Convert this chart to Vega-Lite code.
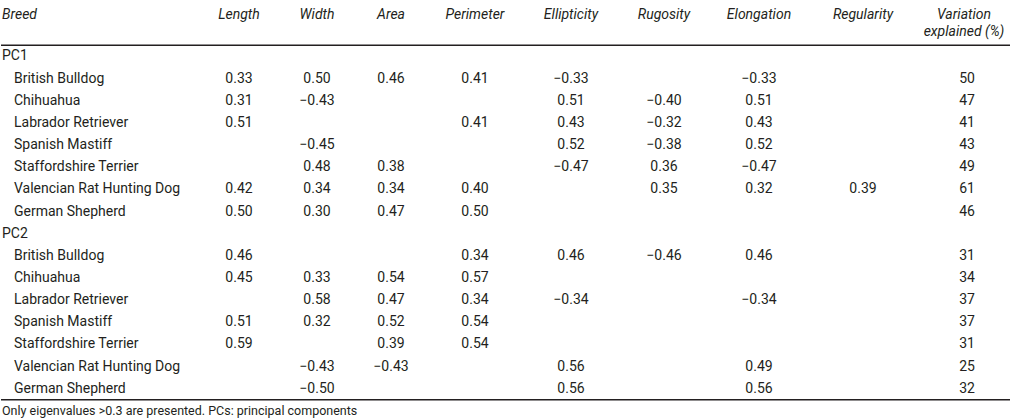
{
  "$schema": "https://vega.github.io/schema/vega-lite/v6.json",
  "padding": {"top": 1, "left": 0, "right": 0, "bottom": 0},
  "bounds": "flush",
  "spacing": 0,
  "config": {"view": {"stroke": null}, "text": {"font": "Roboto", "fontSize": 14, "color": "#231f20"}},
  "datasets": {
    "rules": [{"row": "PC1"}, {"row": "Note"}],
    "rows": [
      {"row": "H1", "label": "Breed", "level": "group", "kind": "header"},
      {"row": "PC1", "label": "PC1", "level": "group", "kind": "body"},
      {"row": "PC1|British Bulldog", "label": "British Bulldog", "level": "breed", "kind": "body"},
      {"row": "PC1|Chihuahua", "label": "Chihuahua", "level": "breed", "kind": "body"},
      {"row": "PC1|Labrador Retriever", "label": "Labrador Retriever", "level": "breed", "kind": "body"},
      {"row": "PC1|Spanish Mastiff", "label": "Spanish Mastiff", "level": "breed", "kind": "body"},
      {"row": "PC1|Staffordshire Terrier", "label": "Staffordshire Terrier", "level": "breed", "kind": "body"},
      {"row": "PC1|Valencian Rat Hunting Dog", "label": "Valencian Rat Hunting Dog", "level": "breed", "kind": "body"},
      {"row": "PC1|German Shepherd", "label": "German Shepherd", "level": "breed", "kind": "body"},
      {"row": "PC2", "label": "PC2", "level": "group", "kind": "body"},
      {"row": "PC2|British Bulldog", "label": "British Bulldog", "level": "breed", "kind": "body"},
      {"row": "PC2|Chihuahua", "label": "Chihuahua", "level": "breed", "kind": "body"},
      {"row": "PC2|Labrador Retriever", "label": "Labrador Retriever", "level": "breed", "kind": "body"},
      {"row": "PC2|Spanish Mastiff", "label": "Spanish Mastiff", "level": "breed", "kind": "body"},
      {"row": "PC2|Staffordshire Terrier", "label": "Staffordshire Terrier", "level": "breed", "kind": "body"},
      {"row": "PC2|Valencian Rat Hunting Dog", "label": "Valencian Rat Hunting Dog", "level": "breed", "kind": "body"},
      {"row": "PC2|German Shepherd", "label": "German Shepherd", "level": "breed", "kind": "body"},
      {"row": "Note", "label": "Only eigenvalues >0.3 are presented. PCs: principal components", "level": "group", "kind": "note"}
    ],
    "headers": [
      {"row": "H1", "measure": "Length", "label": "Length"},
      {"row": "H1", "measure": "Width", "label": "Width"},
      {"row": "H1", "measure": "Area", "label": "Area"},
      {"row": "H1", "measure": "Perimeter", "label": "Perimeter"},
      {"row": "H1", "measure": "Ellipticity", "label": "Ellipticity"},
      {"row": "H1", "measure": "Rugosity", "label": "Rugosity"},
      {"row": "H1", "measure": "Elongation", "label": "Elongation"},
      {"row": "H1", "measure": "Regularity", "label": "Regularity"},
      {"row": "H1", "measure": "Variation", "label": "Variation"},
      {"row": "H2", "measure": "Variation", "label": "explained (%)"}
    ],
    "cells": [
      {"row": "PC1|British Bulldog", "measure": "Length", "value": 0.33},
      {"row": "PC1|British Bulldog", "measure": "Width", "value": 0.50},
      {"row": "PC1|British Bulldog", "measure": "Area", "value": 0.46},
      {"row": "PC1|British Bulldog", "measure": "Perimeter", "value": 0.41},
      {"row": "PC1|British Bulldog", "measure": "Ellipticity", "value": -0.33},
      {"row": "PC1|British Bulldog", "measure": "Elongation", "value": -0.33},
      {"row": "PC1|British Bulldog", "measure": "Variation", "value": 50},
      {"row": "PC1|Chihuahua", "measure": "Length", "value": 0.31},
      {"row": "PC1|Chihuahua", "measure": "Width", "value": -0.43},
      {"row": "PC1|Chihuahua", "measure": "Ellipticity", "value": 0.51},
      {"row": "PC1|Chihuahua", "measure": "Rugosity", "value": -0.40},
      {"row": "PC1|Chihuahua", "measure": "Elongation", "value": 0.51},
      {"row": "PC1|Chihuahua", "measure": "Variation", "value": 47},
      {"row": "PC1|Labrador Retriever", "measure": "Length", "value": 0.51},
      {"row": "PC1|Labrador Retriever", "measure": "Perimeter", "value": 0.41},
      {"row": "PC1|Labrador Retriever", "measure": "Ellipticity", "value": 0.43},
      {"row": "PC1|Labrador Retriever", "measure": "Rugosity", "value": -0.32},
      {"row": "PC1|Labrador Retriever", "measure": "Elongation", "value": 0.43},
      {"row": "PC1|Labrador Retriever", "measure": "Variation", "value": 41},
      {"row": "PC1|Spanish Mastiff", "measure": "Width", "value": -0.45},
      {"row": "PC1|Spanish Mastiff", "measure": "Ellipticity", "value": 0.52},
      {"row": "PC1|Spanish Mastiff", "measure": "Rugosity", "value": -0.38},
      {"row": "PC1|Spanish Mastiff", "measure": "Elongation", "value": 0.52},
      {"row": "PC1|Spanish Mastiff", "measure": "Variation", "value": 43},
      {"row": "PC1|Staffordshire Terrier", "measure": "Width", "value": 0.48},
      {"row": "PC1|Staffordshire Terrier", "measure": "Area", "value": 0.38},
      {"row": "PC1|Staffordshire Terrier", "measure": "Ellipticity", "value": -0.47},
      {"row": "PC1|Staffordshire Terrier", "measure": "Rugosity", "value": 0.36},
      {"row": "PC1|Staffordshire Terrier", "measure": "Elongation", "value": -0.47},
      {"row": "PC1|Staffordshire Terrier", "measure": "Variation", "value": 49},
      {"row": "PC1|Valencian Rat Hunting Dog", "measure": "Length", "value": 0.42},
      {"row": "PC1|Valencian Rat Hunting Dog", "measure": "Width", "value": 0.34},
      {"row": "PC1|Valencian Rat Hunting Dog", "measure": "Area", "value": 0.34},
      {"row": "PC1|Valencian Rat Hunting Dog", "measure": "Perimeter", "value": 0.40},
      {"row": "PC1|Valencian Rat Hunting Dog", "measure": "Rugosity", "value": 0.35},
      {"row": "PC1|Valencian Rat Hunting Dog", "measure": "Elongation", "value": 0.32},
      {"row": "PC1|Valencian Rat Hunting Dog", "measure": "Regularity", "value": 0.39},
      {"row": "PC1|Valencian Rat Hunting Dog", "measure": "Variation", "value": 61},
      {"row": "PC1|German Shepherd", "measure": "Length", "value": 0.50},
      {"row": "PC1|German Shepherd", "measure": "Width", "value": 0.30},
      {"row": "PC1|German Shepherd", "measure": "Area", "value": 0.47},
      {"row": "PC1|German Shepherd", "measure": "Perimeter", "value": 0.50},
      {"row": "PC1|German Shepherd", "measure": "Variation", "value": 46},
      {"row": "PC2|British Bulldog", "measure": "Length", "value": 0.46},
      {"row": "PC2|British Bulldog", "measure": "Perimeter", "value": 0.34},
      {"row": "PC2|British Bulldog", "measure": "Ellipticity", "value": 0.46},
      {"row": "PC2|British Bulldog", "measure": "Rugosity", "value": -0.46},
      {"row": "PC2|British Bulldog", "measure": "Elongation", "value": 0.46},
      {"row": "PC2|British Bulldog", "measure": "Variation", "value": 31},
      {"row": "PC2|Chihuahua", "measure": "Length", "value": 0.45},
      {"row": "PC2|Chihuahua", "measure": "Width", "value": 0.33},
      {"row": "PC2|Chihuahua", "measure": "Area", "value": 0.54},
      {"row": "PC2|Chihuahua", "measure": "Perimeter", "value": 0.57},
      {"row": "PC2|Chihuahua", "measure": "Variation", "value": 34},
      {"row": "PC2|Labrador Retriever", "measure": "Width", "value": 0.58},
      {"row": "PC2|Labrador Retriever", "measure": "Area", "value": 0.47},
      {"row": "PC2|Labrador Retriever", "measure": "Perimeter", "value": 0.34},
      {"row": "PC2|Labrador Retriever", "measure": "Ellipticity", "value": -0.34},
      {"row": "PC2|Labrador Retriever", "measure": "Elongation", "value": -0.34},
      {"row": "PC2|Labrador Retriever", "measure": "Variation", "value": 37},
      {"row": "PC2|Spanish Mastiff", "measure": "Length", "value": 0.51},
      {"row": "PC2|Spanish Mastiff", "measure": "Width", "value": 0.32},
      {"row": "PC2|Spanish Mastiff", "measure": "Area", "value": 0.52},
      {"row": "PC2|Spanish Mastiff", "measure": "Perimeter", "value": 0.54},
      {"row": "PC2|Spanish Mastiff", "measure": "Variation", "value": 37},
      {"row": "PC2|Staffordshire Terrier", "measure": "Length", "value": 0.59},
      {"row": "PC2|Staffordshire Terrier", "measure": "Area", "value": 0.39},
      {"row": "PC2|Staffordshire Terrier", "measure": "Perimeter", "value": 0.54},
      {"row": "PC2|Staffordshire Terrier", "measure": "Variation", "value": 31},
      {"row": "PC2|Valencian Rat Hunting Dog", "measure": "Width", "value": -0.43},
      {"row": "PC2|Valencian Rat Hunting Dog", "measure": "Area", "value": -0.43},
      {"row": "PC2|Valencian Rat Hunting Dog", "measure": "Ellipticity", "value": 0.56},
      {"row": "PC2|Valencian Rat Hunting Dog", "measure": "Elongation", "value": 0.49},
      {"row": "PC2|Valencian Rat Hunting Dog", "measure": "Variation", "value": 25},
      {"row": "PC2|German Shepherd", "measure": "Width", "value": -0.50},
      {"row": "PC2|German Shepherd", "measure": "Ellipticity", "value": 0.56},
      {"row": "PC2|German Shepherd", "measure": "Elongation", "value": 0.56},
      {"row": "PC2|German Shepherd", "measure": "Variation", "value": 32}
    ]
  },
  "hconcat": [
    {
      "width": 198, "height": 421,
      "encoding": {
        "y": {"field": "row", "type": "nominal", "axis": null, "scale": {"domain": ["H1","H2","PC1","PC1|British Bulldog","PC1|Chihuahua","PC1|Labrador Retriever","PC1|Spanish Mastiff","PC1|Staffordshire Terrier","PC1|Valencian Rat Hunting Dog","PC1|German Shepherd","PC2","PC2|British Bulldog","PC2|Chihuahua","PC2|Labrador Retriever","PC2|Spanish Mastiff","PC2|Staffordshire Terrier","PC2|Valencian Rat Hunting Dog","PC2|German Shepherd","Note"], "paddingInner": 0, "paddingOuter": 0}},
        "x": {"field": "level", "type": "nominal", "axis": null, "scale": {"type": "point", "domain": ["group", "breed"], "range": [1, 13], "padding": 0}}
      },
      "layer": [
        {"data": {"name": "rules"}, "mark": {"type": "rule", "color": "#231f20", "strokeWidth": 1.5},
         "encoding": {"x": null, "y": {"field": "row", "type": "nominal", "bandPosition": 0, "axis": null, "scale": {"domain": ["H1","H2","PC1","PC1|British Bulldog","PC1|Chihuahua","PC1|Labrador Retriever","PC1|Spanish Mastiff","PC1|Staffordshire Terrier","PC1|Valencian Rat Hunting Dog","PC1|German Shepherd","PC2","PC2|British Bulldog","PC2|Chihuahua","PC2|Labrador Retriever","PC2|Spanish Mastiff","PC2|Staffordshire Terrier","PC2|Valencian Rat Hunting Dog","PC2|German Shepherd","Note"], "paddingInner": 0, "paddingOuter": 0}}}},
        {"data": {"name": "rows"}, "transform": [{"filter": {"field": "kind", "equal": "header"}}],
         "mark": {"type": "text", "align": "left", "fontStyle": "italic", "fontSize": 14, "dy": 2.5},
         "encoding": {"text": {"field": "label"}}},
        {"data": {"name": "rows"}, "transform": [{"filter": {"field": "kind", "equal": "body"}}],
         "mark": {"type": "text", "align": "left"},
         "encoding": {"text": {"field": "label"}}},
        {"data": {"name": "rows"}, "transform": [{"filter": {"field": "kind", "equal": "note"}}],
         "mark": {"type": "text", "align": "left", "fontSize": 12.5},
         "encoding": {"text": {"field": "label"}}}
      ]
    },
    {
      "width": 80, "height": 421,
      "encoding": {"y": {"field": "row", "type": "nominal", "axis": null, "scale": {"domain": ["H1","H2","PC1","PC1|British Bulldog","PC1|Chihuahua","PC1|Labrador Retriever","PC1|Spanish Mastiff","PC1|Staffordshire Terrier","PC1|Valencian Rat Hunting Dog","PC1|German Shepherd","PC2","PC2|British Bulldog","PC2|Chihuahua","PC2|Labrador Retriever","PC2|Spanish Mastiff","PC2|Staffordshire Terrier","PC2|Valencian Rat Hunting Dog","PC2|German Shepherd","Note"], "paddingInner": 0, "paddingOuter": 0}}},
      "layer": [
        {"data": {"name": "rules"}, "mark": {"type": "rule", "color": "#231f20", "strokeWidth": 1.5},
         "encoding": {"y": {"field": "row", "type": "nominal", "bandPosition": 0, "axis": null}}},
        {"data": {"name": "headers"}, "transform": [{"filter": {"field": "measure", "equal": "Length"}}],
         "mark": {"type": "text", "fontStyle": "italic", "fontSize": 14, "dy": 2.5},
         "encoding": {"text": {"field": "label"}}},
        {"data": {"name": "cells"}, "transform": [{"filter": {"field": "measure", "equal": "Length"}}],
         "mark": {"type": "text"},
         "encoding": {"text": {"field": "value", "type": "quantitative", "format": ".2f"}}}
      ]
    },
    {
      "width": 76, "height": 421,
      "encoding": {"y": {"field": "row", "type": "nominal", "axis": null, "scale": {"domain": ["H1","H2","PC1","PC1|British Bulldog","PC1|Chihuahua","PC1|Labrador Retriever","PC1|Spanish Mastiff","PC1|Staffordshire Terrier","PC1|Valencian Rat Hunting Dog","PC1|German Shepherd","PC2","PC2|British Bulldog","PC2|Chihuahua","PC2|Labrador Retriever","PC2|Spanish Mastiff","PC2|Staffordshire Terrier","PC2|Valencian Rat Hunting Dog","PC2|German Shepherd","Note"], "paddingInner": 0, "paddingOuter": 0}}},
      "layer": [
        {"data": {"name": "rules"}, "mark": {"type": "rule", "color": "#231f20", "strokeWidth": 1.5},
         "encoding": {"y": {"field": "row", "type": "nominal", "bandPosition": 0, "axis": null}}},
        {"data": {"name": "headers"}, "transform": [{"filter": {"field": "measure", "equal": "Width"}}],
         "mark": {"type": "text", "fontStyle": "italic", "fontSize": 14, "dy": 2.5},
         "encoding": {"text": {"field": "label"}}},
        {"data": {"name": "cells"}, "transform": [{"filter": {"field": "measure", "equal": "Width"}}],
         "mark": {"type": "text"},
         "encoding": {"text": {"field": "value", "type": "quantitative", "format": ".2f"}}}
      ]
    },
    {
      "width": 72, "height": 421,
      "encoding": {"y": {"field": "row", "type": "nominal", "axis": null, "scale": {"domain": ["H1","H2","PC1","PC1|British Bulldog","PC1|Chihuahua","PC1|Labrador Retriever","PC1|Spanish Mastiff","PC1|Staffordshire Terrier","PC1|Valencian Rat Hunting Dog","PC1|German Shepherd","PC2","PC2|British Bulldog","PC2|Chihuahua","PC2|Labrador Retriever","PC2|Spanish Mastiff","PC2|Staffordshire Terrier","PC2|Valencian Rat Hunting Dog","PC2|German Shepherd","Note"], "paddingInner": 0, "paddingOuter": 0}}},
      "layer": [
        {"data": {"name": "rules"}, "mark": {"type": "rule", "color": "#231f20", "strokeWidth": 1.5},
         "encoding": {"y": {"field": "row", "type": "nominal", "bandPosition": 0, "axis": null}}},
        {"data": {"name": "headers"}, "transform": [{"filter": {"field": "measure", "equal": "Area"}}],
         "mark": {"type": "text", "fontStyle": "italic", "fontSize": 14, "dy": 2.5},
         "encoding": {"text": {"field": "label"}}},
        {"data": {"name": "cells"}, "transform": [{"filter": {"field": "measure", "equal": "Area"}}],
         "mark": {"type": "text"},
         "encoding": {"text": {"field": "value", "type": "quantitative", "format": ".2f"}}}
      ]
    },
    {
      "width": 96, "height": 421,
      "encoding": {"y": {"field": "row", "type": "nominal", "axis": null, "scale": {"domain": ["H1","H2","PC1","PC1|British Bulldog","PC1|Chihuahua","PC1|Labrador Retriever","PC1|Spanish Mastiff","PC1|Staffordshire Terrier","PC1|Valencian Rat Hunting Dog","PC1|German Shepherd","PC2","PC2|British Bulldog","PC2|Chihuahua","PC2|Labrador Retriever","PC2|Spanish Mastiff","PC2|Staffordshire Terrier","PC2|Valencian Rat Hunting Dog","PC2|German Shepherd","Note"], "paddingInner": 0, "paddingOuter": 0}}},
      "layer": [
        {"data": {"name": "rules"}, "mark": {"type": "rule", "color": "#231f20", "strokeWidth": 1.5},
         "encoding": {"y": {"field": "row", "type": "nominal", "bandPosition": 0, "axis": null}}},
        {"data": {"name": "headers"}, "transform": [{"filter": {"field": "measure", "equal": "Perimeter"}}],
         "mark": {"type": "text", "fontStyle": "italic", "fontSize": 14, "dy": 2.5},
         "encoding": {"text": {"field": "label"}}},
        {"data": {"name": "cells"}, "transform": [{"filter": {"field": "measure", "equal": "Perimeter"}}],
         "mark": {"type": "text"},
         "encoding": {"text": {"field": "value", "type": "quantitative", "format": ".2f"}}}
      ]
    },
    {
      "width": 96, "height": 421,
      "encoding": {"y": {"field": "row", "type": "nominal", "axis": null, "scale": {"domain": ["H1","H2","PC1","PC1|British Bulldog","PC1|Chihuahua","PC1|Labrador Retriever","PC1|Spanish Mastiff","PC1|Staffordshire Terrier","PC1|Valencian Rat Hunting Dog","PC1|German Shepherd","PC2","PC2|British Bulldog","PC2|Chihuahua","PC2|Labrador Retriever","PC2|Spanish Mastiff","PC2|Staffordshire Terrier","PC2|Valencian Rat Hunting Dog","PC2|German Shepherd","Note"], "paddingInner": 0, "paddingOuter": 0}}},
      "layer": [
        {"data": {"name": "rules"}, "mark": {"type": "rule", "color": "#231f20", "strokeWidth": 1.5},
         "encoding": {"y": {"field": "row", "type": "nominal", "bandPosition": 0, "axis": null}}},
        {"data": {"name": "headers"}, "transform": [{"filter": {"field": "measure", "equal": "Ellipticity"}}],
         "mark": {"type": "text", "fontStyle": "italic", "fontSize": 14, "dy": 2.5},
         "encoding": {"text": {"field": "label"}}},
        {"data": {"name": "cells"}, "transform": [{"filter": {"field": "measure", "equal": "Ellipticity"}}],
         "mark": {"type": "text"},
         "encoding": {"text": {"field": "value", "type": "quantitative", "format": ".2f"}}}
      ]
    },
    {
      "width": 90, "height": 421,
      "encoding": {"y": {"field": "row", "type": "nominal", "axis": null, "scale": {"domain": ["H1","H2","PC1","PC1|British Bulldog","PC1|Chihuahua","PC1|Labrador Retriever","PC1|Spanish Mastiff","PC1|Staffordshire Terrier","PC1|Valencian Rat Hunting Dog","PC1|German Shepherd","PC2","PC2|British Bulldog","PC2|Chihuahua","PC2|Labrador Retriever","PC2|Spanish Mastiff","PC2|Staffordshire Terrier","PC2|Valencian Rat Hunting Dog","PC2|German Shepherd","Note"], "paddingInner": 0, "paddingOuter": 0}}},
      "layer": [
        {"data": {"name": "rules"}, "mark": {"type": "rule", "color": "#231f20", "strokeWidth": 1.5},
         "encoding": {"y": {"field": "row", "type": "nominal", "bandPosition": 0, "axis": null}}},
        {"data": {"name": "headers"}, "transform": [{"filter": {"field": "measure", "equal": "Rugosity"}}],
         "mark": {"type": "text", "fontStyle": "italic", "fontSize": 14, "dy": 2.5},
         "encoding": {"text": {"field": "label"}}},
        {"data": {"name": "cells"}, "transform": [{"filter": {"field": "measure", "equal": "Rugosity"}}],
         "mark": {"type": "text"},
         "encoding": {"text": {"field": "value", "type": "quantitative", "format": ".2f"}}}
      ]
    },
    {
      "width": 100, "height": 421,
      "encoding": {"y": {"field": "row", "type": "nominal", "axis": null, "scale": {"domain": ["H1","H2","PC1","PC1|British Bulldog","PC1|Chihuahua","PC1|Labrador Retriever","PC1|Spanish Mastiff","PC1|Staffordshire Terrier","PC1|Valencian Rat Hunting Dog","PC1|German Shepherd","PC2","PC2|British Bulldog","PC2|Chihuahua","PC2|Labrador Retriever","PC2|Spanish Mastiff","PC2|Staffordshire Terrier","PC2|Valencian Rat Hunting Dog","PC2|German Shepherd","Note"], "paddingInner": 0, "paddingOuter": 0}}},
      "layer": [
        {"data": {"name": "rules"}, "mark": {"type": "rule", "color": "#231f20", "strokeWidth": 1.5},
         "encoding": {"y": {"field": "row", "type": "nominal", "bandPosition": 0, "axis": null}}},
        {"data": {"name": "headers"}, "transform": [{"filter": {"field": "measure", "equal": "Elongation"}}],
         "mark": {"type": "text", "fontStyle": "italic", "fontSize": 14, "dy": 2.5},
         "encoding": {"text": {"field": "label"}}},
        {"data": {"name": "cells"}, "transform": [{"filter": {"field": "measure", "equal": "Elongation"}}],
         "mark": {"type": "text"},
         "encoding": {"text": {"field": "value", "type": "quantitative", "format": ".2f"}}}
      ]
    },
    {
      "width": 108, "height": 421,
      "encoding": {"y": {"field": "row", "type": "nominal", "axis": null, "scale": {"domain": ["H1","H2","PC1","PC1|British Bulldog","PC1|Chihuahua","PC1|Labrador Retriever","PC1|Spanish Mastiff","PC1|Staffordshire Terrier","PC1|Valencian Rat Hunting Dog","PC1|German Shepherd","PC2","PC2|British Bulldog","PC2|Chihuahua","PC2|Labrador Retriever","PC2|Spanish Mastiff","PC2|Staffordshire Terrier","PC2|Valencian Rat Hunting Dog","PC2|German Shepherd","Note"], "paddingInner": 0, "paddingOuter": 0}}},
      "layer": [
        {"data": {"name": "rules"}, "mark": {"type": "rule", "color": "#231f20", "strokeWidth": 1.5},
         "encoding": {"y": {"field": "row", "type": "nominal", "bandPosition": 0, "axis": null}}},
        {"data": {"name": "headers"}, "transform": [{"filter": {"field": "measure", "equal": "Regularity"}}],
         "mark": {"type": "text", "fontStyle": "italic", "fontSize": 14, "dy": 2.5},
         "encoding": {"text": {"field": "label"}}},
        {"data": {"name": "cells"}, "transform": [{"filter": {"field": "measure", "equal": "Regularity"}}],
         "mark": {"type": "text"},
         "encoding": {"text": {"field": "value", "type": "quantitative", "format": ".2f"}}}
      ]
    },
    {
      "width": 94, "height": 421,
      "encoding": {"y": {"field": "row", "type": "nominal", "axis": null, "scale": {"domain": ["H1","H2","PC1","PC1|British Bulldog","PC1|Chihuahua","PC1|Labrador Retriever","PC1|Spanish Mastiff","PC1|Staffordshire Terrier","PC1|Valencian Rat Hunting Dog","PC1|German Shepherd","PC2","PC2|British Bulldog","PC2|Chihuahua","PC2|Labrador Retriever","PC2|Spanish Mastiff","PC2|Staffordshire Terrier","PC2|Valencian Rat Hunting Dog","PC2|German Shepherd","Note"], "paddingInner": 0, "paddingOuter": 0}}},
      "layer": [
        {"data": {"name": "rules"}, "mark": {"type": "rule", "color": "#231f20", "strokeWidth": 1.5},
         "encoding": {"y": {"field": "row", "type": "nominal", "bandPosition": 0, "axis": null}}},
        {"data": {"name": "headers"}, "transform": [{"filter": {"field": "measure", "equal": "Variation"}}, {"filter": {"field": "row", "equal": "H1"}}],
         "mark": {"type": "text", "fontStyle": "italic", "fontSize": 14, "dy": 2.5},
         "encoding": {"text": {"field": "label"}}},
        {"data": {"name": "headers"}, "transform": [{"filter": {"field": "measure", "equal": "Variation"}}, {"filter": {"field": "row", "equal": "H2"}}],
         "mark": {"type": "text", "fontStyle": "italic", "fontSize": 14, "dy": -2.5},
         "encoding": {"text": {"field": "label"}}},
        {"data": {"name": "cells"}, "transform": [{"filter": {"field": "measure", "equal": "Variation"}}],
         "mark": {"type": "text", "dx": 3},
         "encoding": {"text": {"field": "value", "type": "quantitative", "format": "d"}}}
      ]
    }
  ]
}
